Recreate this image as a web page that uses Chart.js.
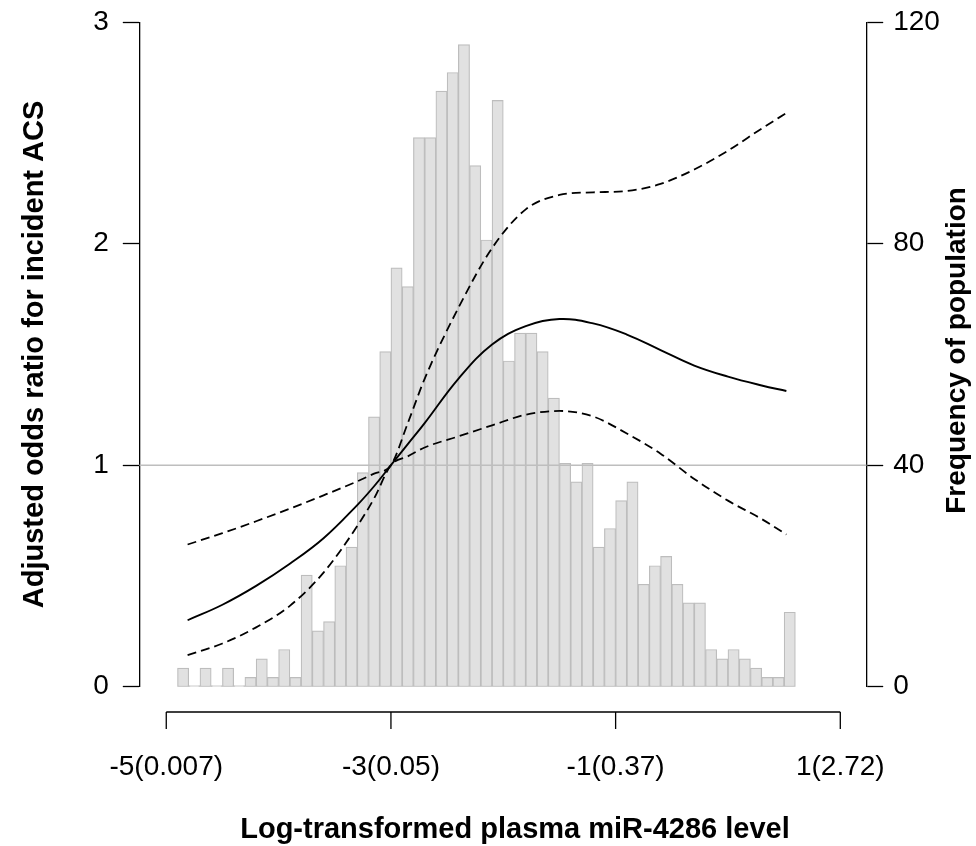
<!DOCTYPE html>
<html>
<head>
<meta charset="UTF-8">
<title>Plasma miR-4286 and incident ACS</title>
<script src="https://cdn.jsdelivr.net/npm/chart.js@4.4.1/dist/chart.umd.min.js"></script>
<style>
    html, body { margin: 0; padding: 0; background: #fff; overflow: hidden; }
</style>
</head>
<body>
<canvas id="rcsChart" width="976" height="846"></canvas>
<script>
// Histogram: bin centres (width 0.1) and counts
const binMids = [
    -4.85, -4.75, -4.65, -4.55, -4.45, -4.35, -4.25, -4.15, -4.05, -3.95,
    -3.85, -3.75, -3.65, -3.55, -3.45, -3.35, -3.25, -3.15, -3.05, -2.95,
    -2.85, -2.75, -2.65, -2.55, -2.45, -2.35, -2.25, -2.15, -2.05, -1.95,
    -1.85, -1.75, -1.65, -1.55, -1.45, -1.35, -1.25, -1.15, -1.05, -0.95,
    -0.85, -0.75, -0.65, -0.55, -0.45, -0.35, -0.25, -0.15, -0.05, 0.05,
    0.15, 0.25, 0.35, 0.45, 0.55
];
const binCounts = [
    2, 0, 2, 0, 2, 0, 1, 3, 1, 4,
    1, 12, 6, 7, 13, 15, 23, 29, 36, 45,
    43, 59, 59, 64, 66, 69, 56, 48, 63, 35,
    38, 38, 36, 31, 24, 22, 24, 15, 17, 20,
    22, 11, 13, 14, 11, 9, 9, 4, 3, 4,
    3, 2, 1, 1, 8
];

// Spline curve: adjusted OR with 95% CI
const curveX  = [-4.81, -4.5, -4.2, -3.9, -3.6, -3.3, -3.15, -3.0, -2.85, -2.7, -2.4, -2.1, -1.8, -1.5, -1.2, -0.9, -0.6, -0.3, 0.0, 0.3, 0.52];
const orEst   = [0.30, 0.37, 0.455, 0.555, 0.67, 0.82, 0.905, 1.0, 1.095, 1.19, 1.39, 1.545, 1.628, 1.66, 1.64, 1.59, 1.52, 1.45, 1.40, 1.36, 1.335];
const orUpper = [0.642, 0.693, 0.747, 0.804, 0.864, 0.927, 0.962, 1.0, 1.19, 1.39, 1.71, 1.98, 2.155, 2.22, 2.232, 2.238, 2.27, 2.335, 2.42, 2.52, 2.59];
const orLower = [0.143, 0.195, 0.268, 0.365, 0.515, 0.725, 0.85, 1.0, 1.04, 1.08, 1.13, 1.18, 1.228, 1.245, 1.22, 1.143, 1.052, 0.938, 0.84, 0.757, 0.687];
const refValue = 1;

// Axes
const xMin = -5.24, xMax = 1.235;
const xTickValues = [-5, -3, -1, 1];
const xTickLabels = ['-5(0.007)', '-3(0.05)', '-1(0.37)', '1(2.72)'];
const orTicks = [0, 1, 2, 3];
const freqTicks = [0, 40, 80, 120];
const histMax = 71.4;

const xTitle = 'Log-transformed plasma miR-4286 level';
const yLeftTitle = 'Adjusted odds ratio for incident ACS';
const yRightTitle = 'Frequency of population';

const FONT = '"Liberation Sans", Arial, Helvetica, sans-serif';

function toPoints(ys) {
    return curveX.map((x, i) => ({ x: x, y: ys[i] }));
}

// keep the y axes from pushing the plot down for their end labels
function fixYAxis(width) {
    return s => {
        s.width = width;
        s.paddingTop = 0;
        s.paddingBottom = 0;
    };
}

// R-style detached x axis and the three axis titles
const rStyleAxes = {
    id: 'rStyleAxes',
    afterDraw(chart) {
        const { ctx, chartArea, scales } = chart;
        const xs = scales.x;
        const axisY = chartArea.bottom + 25.3;
        const left = xs.getPixelForValue(xTickValues[0]);
        const right = xs.getPixelForValue(xTickValues[xTickValues.length - 1]);
        ctx.save();
        ctx.strokeStyle = '#000';
        ctx.lineWidth = 1.3;
        ctx.beginPath();
        ctx.moveTo(left, axisY);
        ctx.lineTo(right, axisY);
        xTickValues.forEach(v => {
            const px = xs.getPixelForValue(v);
            ctx.moveTo(px, axisY);
            ctx.lineTo(px, axisY + 17);
        });
        ctx.stroke();

        const midX = (chartArea.left + chartArea.right) / 2;
        const midY = (chartArea.top + chartArea.bottom) / 2;
        ctx.fillStyle = '#000';
        ctx.font = 'bold 29px ' + FONT;
        ctx.textAlign = 'center';
        ctx.textBaseline = 'middle';
        ctx.fillText(xTitle, midX + 12, 830);

        ctx.save();
        ctx.translate(35, midY);
        ctx.rotate(-Math.PI / 2);
        ctx.fillText(yLeftTitle, 0, 0);
        ctx.restore();

        ctx.save();
        ctx.translate(957, midY - 4);
        ctx.rotate(-Math.PI / 2);
        ctx.font = 'bold 28px ' + FONT;
        ctx.fillText(yRightTitle, 0, 0);
        ctx.restore();
        ctx.restore();
    }
};

const ctx = document.getElementById('rcsChart').getContext('2d');
new Chart(ctx, {
    type: 'bar',
    data: {
        datasets: [
            {
                type: 'bar',
                label: 'Frequency',
                data: binMids.map((m, i) => ({ x: m, y: binCounts[i] })),
                xAxisID: 'x',
                yAxisID: 'yHist',
                backgroundColor: '#e1e1e1',
                borderColor: '#bdbdbd',
                borderWidth: 1.2,
                borderSkipped: false,
                barPercentage: 1,
                categoryPercentage: 1,
                minBarLength: 1,
                order: 3
            },
            {
                type: 'line',
                label: 'Reference',
                data: [{ x: xMin, y: refValue }, { x: xMax, y: refValue }],
                yAxisID: 'y',
                borderColor: '#bebebe',
                borderWidth: 1.4,
                pointRadius: 0,
                order: 2
            },
            {
                type: 'line',
                label: 'Upper 95% CI',
                data: toPoints(orUpper),
                yAxisID: 'y',
                borderColor: '#000',
                borderWidth: 1.8,
                borderDash: [9, 5],
                pointRadius: 0,
                cubicInterpolationMode: 'monotone',
                order: 1
            },
            {
                type: 'line',
                label: 'Adjusted OR',
                data: toPoints(orEst),
                yAxisID: 'y',
                borderColor: '#000',
                borderWidth: 1.9,
                pointRadius: 0,
                tension: 0.4,
                order: 1
            },
            {
                type: 'line',
                label: 'Lower 95% CI',
                data: toPoints(orLower),
                yAxisID: 'y',
                borderColor: '#000',
                borderWidth: 1.8,
                borderDash: [9, 5],
                pointRadius: 0,
                cubicInterpolationMode: 'monotone',
                order: 1
            }
        ]
    },
    options: {
        responsive: false,
        animation: false,
        events: [],
        layout: { padding: { top: 22.2, left: 0, right: 0, bottom: 0 } },
        plugins: {
            legend: { display: false },
            tooltip: { enabled: false }
        },
        scales: {
            x: {
                type: 'linear',
                offset: false,
                min: xMin,
                max: xMax,
                grid: { display: false, offset: false },
                border: { display: false },
                ticks: {
                    color: '#000',
                    font: { family: FONT, size: 28 },
                    padding: 56,
                    autoSkip: false,
                    maxRotation: 0,
                    callback: (v, i) => xTickLabels[i]
                },
                afterBuildTicks: s => { s.ticks = xTickValues.map(v => ({ value: v })); },
                afterFit: s => { s.height = 846 - 686.7; }
            },
            y: {
                position: 'left',
                min: 0,
                max: 3,
                grid: {
                    drawOnChartArea: false,
                    tickColor: '#000',
                    tickLength: 16.5,
                    tickWidth: 1.3
                },
                border: { display: true, color: '#000', width: 1.3 },
                ticks: {
                    color: '#000',
                    font: { family: FONT, size: 28 },
                    padding: 14
                },
                afterBuildTicks: s => { s.ticks = orTicks.map(v => ({ value: v })); },
                afterFit: fixYAxis(139.3)
            },
            yFreq: {
                position: 'right',
                min: 0,
                max: 120,
                grid: {
                    drawOnChartArea: false,
                    tickColor: '#000',
                    tickLength: 16.5,
                    tickWidth: 1.3
                },
                border: { display: true, color: '#000', width: 1.3 },
                ticks: {
                    color: '#000',
                    font: { family: FONT, size: 28 },
                    padding: 10
                },
                afterBuildTicks: s => { s.ticks = freqTicks.map(v => ({ value: v })); },
                afterFit: fixYAxis(976 - 866.7)
            },
            yHist: {
                display: false,
                position: 'right',
                min: 0,
                max: histMax
            }
        }
    },
    plugins: [rStyleAxes]
});
</script>
</body>
</html>
